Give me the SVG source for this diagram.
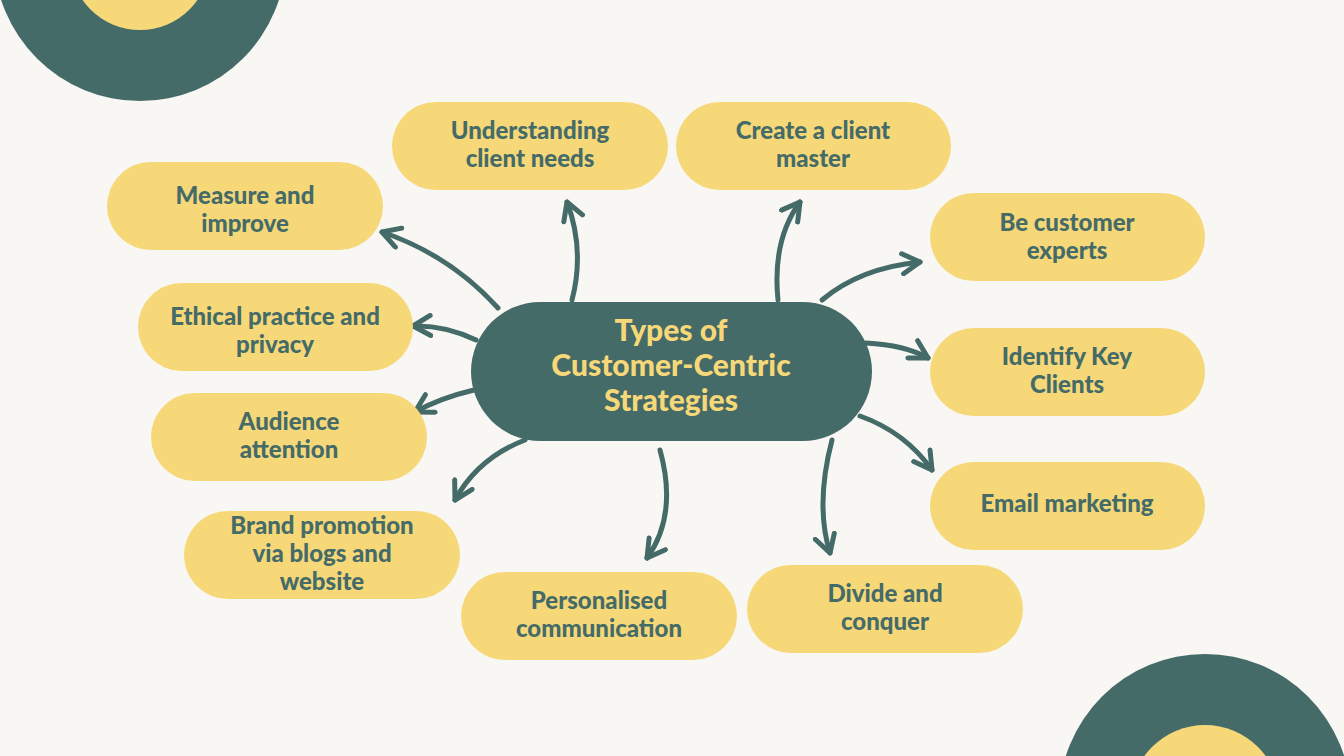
<svg xmlns="http://www.w3.org/2000/svg" width="1344" height="756" viewBox="0 0 1344 756">
<style>
.n rect{fill:#f6d879}
.n text{font-family:Lato,"Liberation Sans",sans-serif;font-weight:900;font-size:24px;fill:#456b68;text-anchor:middle}
.c path{fill:none;stroke:#456b68;stroke-width:5;stroke-linecap:round;marker-end:url(#a)}
</style>
<defs>
<marker id="a" viewBox="0 0 10 10" refX="8" refY="5" markerWidth="5" markerHeight="5" orient="auto" markerUnits="strokeWidth">
<path d="M1,1 L8,5 L1,9" fill="none" stroke="#456b68" stroke-width="2" stroke-linecap="round" stroke-linejoin="round"/>
</marker>
</defs>
<rect width="1344" height="756" fill="#f9f7f3"/>
<circle cx="140" cy="-45" r="146" fill="#456b68"/>
<circle cx="140" cy="-40" r="70" fill="#f6d879"/>
<circle cx="1205" cy="800" r="146" fill="#456b68"/>
<circle cx="1205" cy="800" r="75" fill="#f6d879"/>
<g class="c">
<path d="M498,308 Q450,255 382,232"/>
<path d="M572,300 Q585,250 567,202"/>
<path d="M778,300 Q772,240 800,202"/>
<path d="M822,300 Q860,268 920,262"/>
<path d="M866,343 Q905,345 928,358"/>
<path d="M860,416 Q905,432 932,470"/>
<path d="M832,440 Q815,505 830,553"/>
<path d="M660,450 Q678,515 647,558"/>
<path d="M525,440 Q478,458 455,500"/>
<path d="M474,390 Q440,398 415,412"/>
<path d="M476,340 Q445,325 413,326"/>
</g>
<g id="center"><rect x="471" y="302" width="401" height="139" rx="69.5" fill="#456b68"/>
<text font-family="Lato,'Liberation Sans',sans-serif" font-weight="900" font-size="30" fill="#f6d879" text-anchor="middle"><tspan x="671" y="341">Types of</tspan><tspan x="671" y="376">Customer-Centric</tspan><tspan x="671" y="411">Strategies</tspan></text></g>
<g id="n1" class="n"><rect x="392" y="102" width="276" height="88" rx="44"/><text><tspan x="530" y="139">Understanding</tspan><tspan x="530" y="167">client needs</tspan></text></g>
<g id="n2" class="n"><rect x="676" y="102" width="275" height="88" rx="44"/><text><tspan x="813" y="139">Create a client</tspan><tspan x="813" y="167">master</tspan></text></g>
<g id="n3" class="n"><rect x="107" y="162" width="276" height="88" rx="44"/><text><tspan x="245" y="204">Measure and</tspan><tspan x="245" y="232">improve</tspan></text></g>
<g id="n4" class="n"><rect x="930" y="193" width="275" height="88" rx="44"/><text><tspan x="1067" y="231">Be customer</tspan><tspan x="1067" y="259">experts</tspan></text></g>
<g id="n5" class="n"><rect x="138" y="283" width="275" height="88" rx="44"/><text><tspan x="275" y="325">Ethical practice and</tspan><tspan x="275" y="353">privacy</tspan></text></g>
<g id="n6" class="n"><rect x="930" y="328" width="275" height="88" rx="44"/><text><tspan x="1067" y="365">Identify Key</tspan><tspan x="1067" y="393">Clients</tspan></text></g>
<g id="n7" class="n"><rect x="151" y="393" width="276" height="88" rx="44"/><text><tspan x="289" y="430">Audience</tspan><tspan x="289" y="458">attention</tspan></text></g>
<g id="n8" class="n"><rect x="930" y="462" width="275" height="88" rx="44"/><text><tspan x="1067" y="512">Email marketing</tspan></text></g>
<g id="n9" class="n"><rect x="184" y="511" width="276" height="88" rx="44"/><text><tspan x="322" y="534">Brand promotion</tspan><tspan x="322" y="562">via blogs and</tspan><tspan x="322" y="590">website</tspan></text></g>
<g id="n10" class="n"><rect x="461" y="572" width="276" height="88" rx="44"/><text><tspan x="599" y="609">Personalised</tspan><tspan x="599" y="637">communication</tspan></text></g>
<g id="n11" class="n"><rect x="747" y="565" width="276" height="88" rx="44"/><text><tspan x="885" y="602">Divide and</tspan><tspan x="885" y="630">conquer</tspan></text></g>
</svg>
